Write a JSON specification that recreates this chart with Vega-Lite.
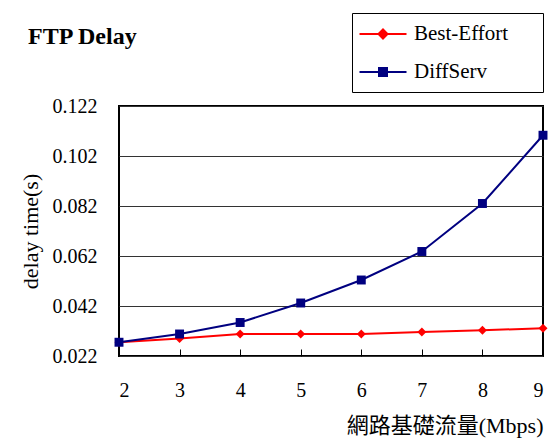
{
  "$schema": "https://vega.github.io/schema/vega-lite/v6.json",
  "width": 424,
  "height": 250,
  "autosize": {"type": "none"},
  "padding": {"left": 119, "top": 106, "right": 5, "bottom": 85},
  "background": "white",
  "title": {
    "text": "FTP Delay",
    "anchor": "start",
    "font": "Liberation Serif, Times New Roman, serif",
    "fontSize": 24,
    "fontWeight": "bold",
    "color": "black",
    "baseline": "alphabetic",
    "dx": 9,
    "dy": 55,
    "offset": 0
  },
  "data": {
    "values": [
      {"x": 2, "series": "Best-Effort", "delay": 0.0275},
      {"x": 3, "series": "Best-Effort", "delay": 0.0290},
      {"x": 4, "series": "Best-Effort", "delay": 0.0308},
      {"x": 5, "series": "Best-Effort", "delay": 0.0308},
      {"x": 6, "series": "Best-Effort", "delay": 0.0308},
      {"x": 7, "series": "Best-Effort", "delay": 0.0316},
      {"x": 8, "series": "Best-Effort", "delay": 0.0323},
      {"x": 9, "series": "Best-Effort", "delay": 0.0331},
      {"x": 2, "series": "DiffServ", "delay": 0.0275},
      {"x": 3, "series": "DiffServ", "delay": 0.0308},
      {"x": 4, "series": "DiffServ", "delay": 0.0354},
      {"x": 5, "series": "DiffServ", "delay": 0.0432},
      {"x": 6, "series": "DiffServ", "delay": 0.0524},
      {"x": 7, "series": "DiffServ", "delay": 0.0638},
      {"x": 8, "series": "DiffServ", "delay": 0.0830},
      {"x": 9, "series": "DiffServ", "delay": 0.1103}
    ]
  },
  "encoding": {
    "x": {
      "field": "x",
      "type": "quantitative",
      "scale": {"domain": [2, 9], "nice": false, "zero": false},
      "axis": {
        "values": [2, 3, 4, 5, 6, 7, 8, 9],
        "title": "網路基礎流量(Mbps)",
        "titleFont": "Liberation Serif, Times New Roman, Noto Sans CJK TC, serif",
        "titleFontSize": 22,
        "titleFontWeight": "normal",
        "titleColor": "black",
        "titleAnchor": "end",
        "titlePadding": 15,
        "labelFont": "Liberation Serif, Times New Roman, serif",
        "labelFontSize": 20,
        "labelColor": "black",
        "labelPadding": 31,
        "tickSize": -7,
        "tickColor": "black",
        "domain": false,
        "grid": false
      }
    },
    "y": {
      "field": "delay",
      "type": "quantitative",
      "scale": {"domain": [0.022, 0.122], "nice": false, "zero": false},
      "axis": {
        "values": [0.022, 0.042, 0.062, 0.082, 0.102, 0.122],
        "format": ".3f",
        "title": "delay time(s)",
        "titleFont": "Liberation Serif, Times New Roman, serif",
        "titleFontSize": 22,
        "titleFontWeight": "normal",
        "titleColor": "black",
        "titlePadding": 10,
        "labelFont": "Liberation Serif, Times New Roman, serif",
        "labelFontSize": 20,
        "labelColor": "black",
        "labelPadding": 22,
        "ticks": false,
        "domain": false,
        "grid": true,
        "gridColor": "#333333",
        "gridWidth": 1
      }
    },
    "color": {
      "field": "series",
      "type": "nominal",
      "scale": {"domain": ["Best-Effort", "DiffServ"], "range": ["#ff0000", "#000080"]},
      "legend": {
        "orient": "none",
        "legendX": 233,
        "legendY": -93,
        "title": null,
        "strokeColor": "black",
        "fillColor": "white",
        "padding": 10,
        "symbolSize": 400,
        "symbolStrokeWidth": 2,
        "symbolOffset": 10,
        "labelOffset": 20,
        "rowPadding": 17,
        "labelFont": "Liberation Serif, Times New Roman, serif",
        "labelFontSize": 21,
        "labelFontWeight": "normal",
        "labelColor": "black",
        "encode": {
          "symbols": {
            "update": {
              "shape": {"signal": "datum.value === 'Best-Effort' ? 'M-2.35,0H2.35M-0.45,0L0,-0.45L0.45,0L0,0.45ZM14.6,0' : 'M-2.35,0H2.35M-0.4,-0.4H0.4V0.4H-0.4ZM14.6,0'"},
              "fill": {"signal": "datum.value === 'Best-Effort' ? '#ff0000' : '#000080'"},
              "stroke": {"signal": "datum.value === 'Best-Effort' ? '#ff0000' : '#000080'"},
              "strokeWidth": {"value": 2},
              "opacity": {"value": 1},
              "fillOpacity": {"value": 1},
              "strokeOpacity": {"value": 1}
            }
          }
        }
      }
    }
  },
  "layer": [
    {"mark": {"type": "line", "strokeWidth": 2}},
    {
      "mark": {"type": "point", "filled": true, "opacity": 1, "size": 80},
      "encoding": {
        "shape": {
          "condition": {"test": "datum.series === 'Best-Effort'", "value": "diamond"},
          "value": "square"
        }
      }
    }
  ],
  "config": {
    "view": {"stroke": "black", "strokeWidth": 2}
  }
}
